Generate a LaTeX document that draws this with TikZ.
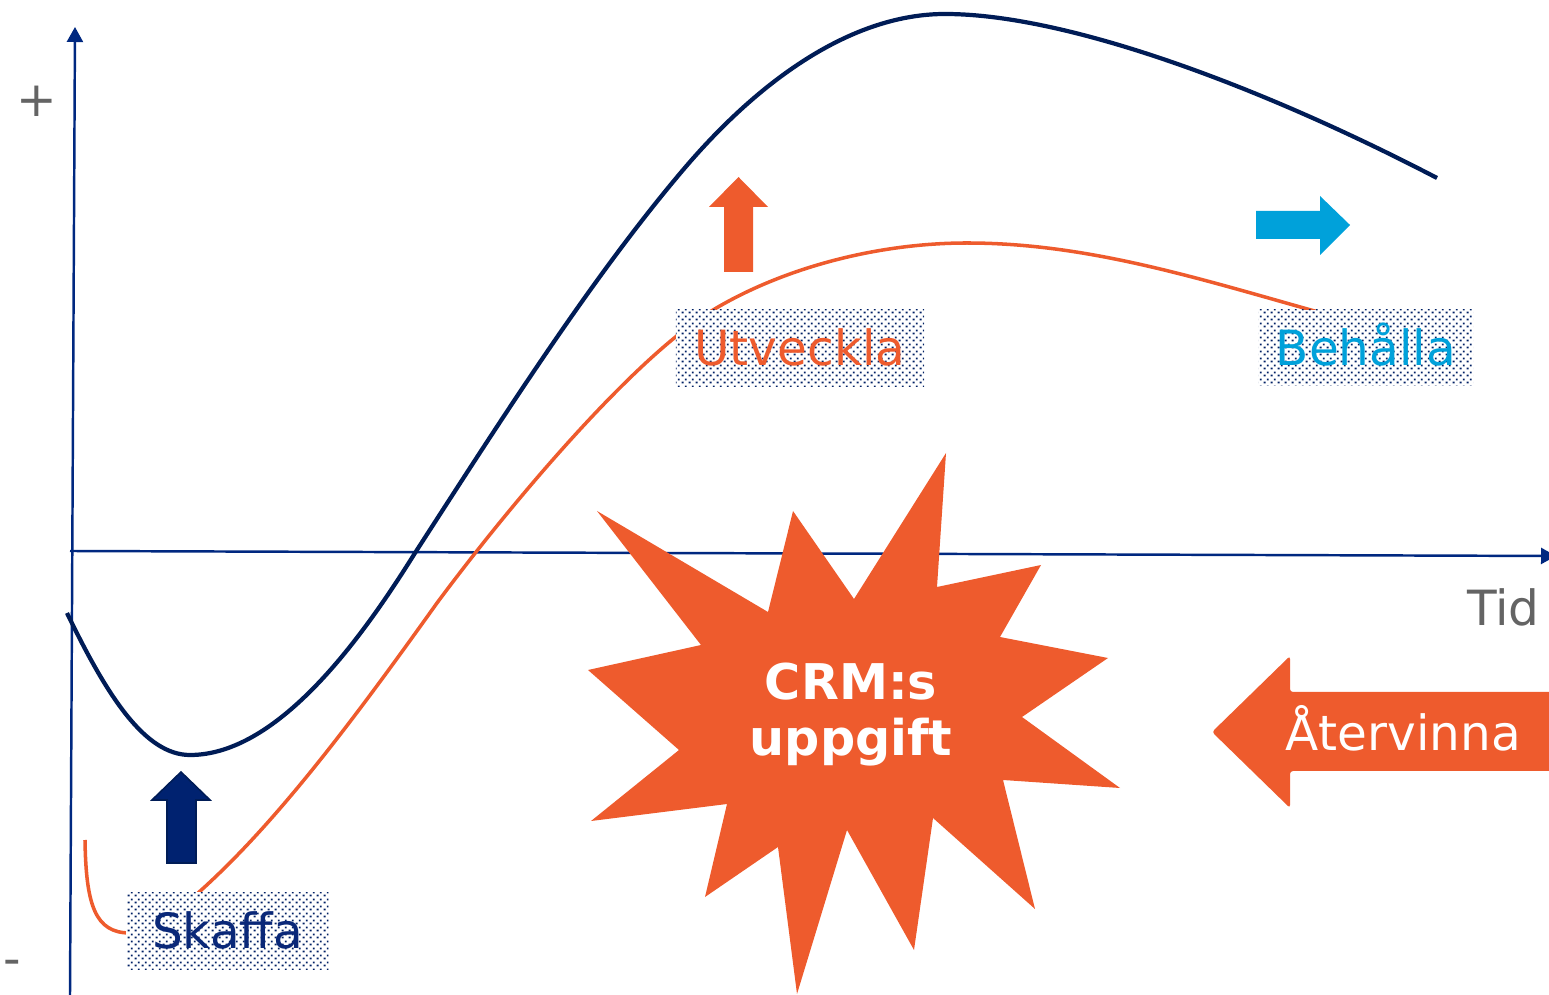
\documentclass[tikz,border=0pt]{standalone}
\usepackage{fontspec}
\setmainfont{DejaVu Sans}
\usepackage{xcolor}
\usepackage{tikz}
\usetikzlibrary{arrows.meta, positioning, patterns.meta}

\definecolor{axisblue}{RGB}{0,40,128}
\definecolor{curvenavy}{RGB}{0,28,86}
\definecolor{crmorange}{RGB}{238,91,45}
\definecolor{keepcyan}{RGB}{0,161,218}
\definecolor{labelgray}{RGB}{100,100,100}
\definecolor{dotnavy}{RGB}{0,32,100}
\definecolor{getblue}{RGB}{10,40,120}

\tikzdeclarepattern{
  name=dotgrid,
  type=uncolored,
  bounding box={(0pt,0pt) and (1.9pt,2pt)},
  tile size={(1.9pt,2pt)},
  code={
    \pgfpathrectangle{\pgfpoint{0.2pt}{0.2pt}}{\pgfpoint{0.55pt}{0.55pt}}
    \pgfpathrectangle{\pgfpoint{1.15pt}{1.2pt}}{\pgfpoint{0.55pt}{0.55pt}}
    \pgfusepath{fill}
  }
}

\begin{document}
\begin{tikzpicture}[
    x=0.01cm, y=-0.01cm,
    every node/.style={font=\fontsize{13.8}{16}\selectfont},
    axis/.style={axisblue, line width=0.7pt, -{Triangle[width=0.16cm, length=0.15cm]}},
    value/.style={curvenavy, line width=1.2pt},
    profit/.style={crmorange, line width=1pt},
    stagebox/.style={inner sep=0pt, text height=10pt, text depth=0pt, preaction={fill=white}, pattern=dotgrid, pattern color=dotnavy},
    blockarrow/.style={line join=miter},
]
    \useasboundingbox (0,0) rectangle (1549,995);

    % Axes
    \coordinate (origin) at (70,551);
    \coordinate (ybottom) at (70,995);
    \coordinate (ytop) at (75,27);
    \coordinate (xend) at (1556,556);
    \draw[axis] (ybottom) -- (ytop);
    \draw[axis] (origin) -- (xend);
    \node[labelgray] (plus) at (37,101) {+};
    \node[labelgray] (minus) at (12,968) {-};
    \node[labelgray, anchor=base east] (tid) at (1552,626) {Tid};

    % Curves
    \draw[value] (67,613) .. controls (107,696) and (145,755) .. (190,755)
        .. controls (280,755) and (365,633) .. (415,553)
        .. controls (505,413.5) and (593,276) .. (683,170)
        .. controls (763,75.6) and (855,14) .. (945,14)
        .. controls (1065,14) and (1257,84.4) .. (1437,178);
    \draw[profit] (198,893) .. controls (278,821.8) and (357,715) .. (437,603)
        .. controls (507,508.5) and (633,358) .. (713,310)
        .. controls (783,268) and (877,243) .. (967,243)
        .. controls (1087,243) and (1198,278.4) .. (1318,312);
    \draw[profit] (85,840) .. controls (86,905) and (95,933) .. (130,933);

    % Stage labels
    \node[stagebox, minimum width=2.02cm, minimum height=0.77cm, text=getblue] (skaffa) at (227.5,931) {Skaffa};
    \node[stagebox, minimum width=2.48cm, minimum height=0.77cm, text=crmorange] (utveckla) at (800,348.3) {Utveckla};
    \node[stagebox, minimum width=2.14cm, minimum height=0.75cm, text=keepcyan] (behalla) at (1366,347.5) {Behålla};

    % Block arrows
    \filldraw[blockarrow, fill={rgb,255:red,0;green,34;blue,112}, draw=curvenavy, line width=0.45pt]
        (167,863) -- (167,800) -- (152,800) -- (181,772) -- (210,800) -- (196,800) -- (196,863) -- cycle;
    \fill[blockarrow, crmorange]
        (724,272) -- (724,207) -- (709,207) -- (738.5,177) -- (768,207) -- (753,207) -- (753,272) -- cycle;
    \fill[blockarrow, keepcyan]
        (1256,211) -- (1320,211) -- (1320,196) -- (1350,225) -- (1320,255) -- (1320,239) -- (1256,239) -- cycle;
    \fill[crmorange, rounded corners=0.03cm]
        (1570,692) -- (1290,692) -- (1290,656) -- (1212,732) -- (1290,808) -- (1290,771) -- (1570,771) -- cycle;
    \node[white, anchor=base west] (atervinna) at (1273,751) {Återvinna};

    % Starburst
    \fill[crmorange] (946,453) -- (937,587) -- (1041,565) -- (1000,637) -- (1108,658) -- (1022,717)
        -- (1120,788) -- (1003,780) -- (1035,909) -- (933,818) -- (914,950) -- (847,830)
        -- (797,994) -- (778,847) -- (705,897) -- (727,804) -- (591,821) -- (679,750)
        -- (588,670) -- (701,645) -- (597,511) -- (768,612) -- (793,511) -- (854,599) -- cycle;
    \node[white, font=\fontsize{14}{15.9}\selectfont\bfseries, align=center] (crm) at (851,715) {CRM:s\\uppgift};
\end{tikzpicture}
\end{document}
